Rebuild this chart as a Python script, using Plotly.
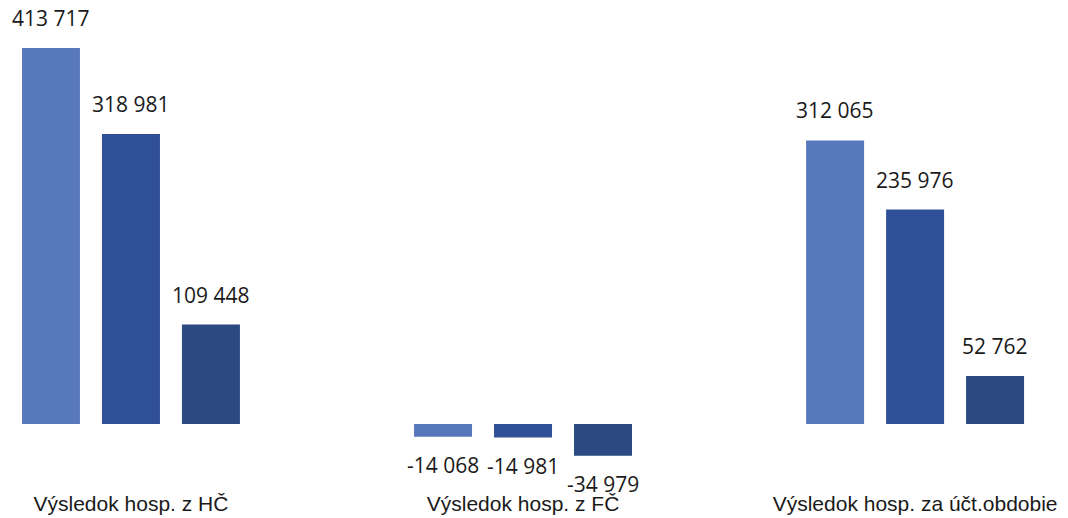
import plotly.graph_objects as go

categories = ["Výsledok hosp. z HČ", "Výsledok hosp. z FČ", "Výsledok hosp. za účt.obdobie"]
series_names = ["Obdobie 1", "Obdobie 2", "Obdobie 3"]
series_1 = [413717, -14068, 312065]
series_2 = [318981, -14981, 235976]
series_3 = [109448, -34979, 52762]
colors = ["#5878BC", "#2F5097", "#2B4A82"]

BARGAP = 0.388
H, B = 518, 29
scale = 376 / 413717  # px per unit


def fmt(v):
    s = f"{abs(v):,}".replace(",", " ")
    return ("-" if v < 0 else "") + s


fig = go.Figure()
all_series = [series_1, series_2, series_3]
for name, vals, col in zip(series_names, all_series, colors):
    fig.add_trace(go.Bar(
        x=categories, y=vals, name=name,
        marker=dict(color=col, line=dict(width=0)),
        hoverinfo="skip",
    ))

# data labels, placed at each bar's centre (slot width derived from bargap)
slot = (1 - BARGAP) / len(all_series)
annotations = []
for k, vals in enumerate(all_series):
    off = (k - (len(all_series) - 1) / 2) * slot
    for i, v in enumerate(vals):
        annotations.append(dict(
            x=i + off, y=v, xref="x", yref="y", text=fmt(v), showarrow=False,
            yanchor="bottom" if v >= 0 else "top",
            yshift=14 if v >= 0 else -12,
            font=dict(family="Open Sans", size=21, color="#1a1a1a"),
        ))

fig.update_layout(
    width=1068, height=H,
    margin=dict(l=0, r=0, t=0, b=B),
    paper_bgcolor="white", plot_bgcolor="white",
    barmode="group", bargap=BARGAP, bargroupgap=0.275,
    showlegend=False,
    annotations=annotations,
    xaxis=dict(range=[-0.334, 2.39], showgrid=False, zeroline=False, showline=False,
               ticks="", tickfont=dict(family="Liberation Sans", size=21, color="#1a1a1a")),
    yaxis=dict(range=[-(H - B - 424) / scale, 424 / scale], showgrid=False, zeroline=False,
               showline=False, showticklabels=False, ticks=""),
)
fig.write_html("out.html")
